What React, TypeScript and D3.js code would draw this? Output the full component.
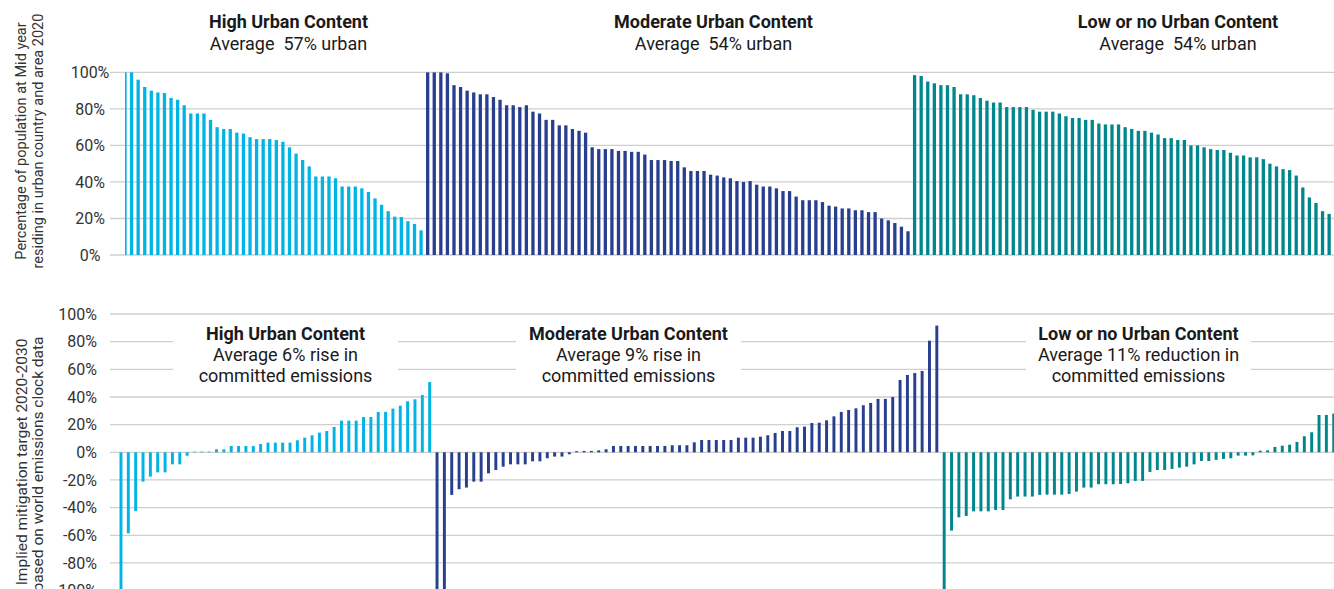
import React from 'react';
import * as d3 from 'd3';

const groupNames = ['High Urban Content', 'Moderate Urban Content', 'Low or no Urban Content'];
const groupColors = ['#00b4e6', '#283f8e', '#00878d'];
const topSubtitles = ['Average  57% urban', 'Average  54% urban', 'Average  54% urban'];
const bottomSubtitles = [
  ['Average 6% rise in', 'committed emissions'],
  ['Average 9% rise in', 'committed emissions'],
  ['Average 11% reduction in', 'committed emissions'],
];

// Percentage of population residing in urban area (2020)
const urbanHigh = [100, 100, 96, 92, 90, 89, 88.7, 86, 85, 82, 77.5, 77.5, 77.5, 74, 70, 69, 69, 67, 66.5, 64.5,
  63.5, 63.5, 63.5, 63, 62, 59, 55.5, 52, 48.5, 43, 43, 43, 42, 37.5, 37.5, 37.5, 36.5, 34.5, 31, 27.5,
  24, 21, 20.8, 18.5, 17, 13.5];
const urbanModerate = [100, 100, 100, 99.5, 93, 92, 90, 89, 88, 88, 86.5, 85, 82, 82, 81, 82, 78.5, 77.5, 74, 74,
  71, 71, 69, 68, 67, 59, 58, 58, 58, 57, 57, 56.5, 56.5, 55, 52, 52, 52, 51.5, 51.5, 48,
  46, 46, 46, 44, 43.5, 42.5, 42, 40.5, 40, 40.5, 38.5, 37.5, 37.5, 36.5, 35, 35, 32, 30, 30, 30,
  29, 27, 26.5, 25.5, 25.5, 24.5, 24.5, 23.5, 23.5, 20, 19, 17.5, 15.5, 13];
const urbanLow = [98.5, 98, 95, 94, 93, 93, 92, 88, 88, 87.5, 86, 84.5, 83.5, 83.5, 81, 81, 81, 81, 79.5, 78.5,
  78.5, 78.5, 77.5, 76, 75, 75, 74, 74, 72, 71.5, 71.5, 71.5, 70, 69, 68, 68, 67, 66, 64, 64,
  63, 63, 60, 60, 59, 58, 57.5, 57.5, 56, 54.5, 54.5, 53.5, 53.5, 52.5, 50, 48.5, 47, 46.5, 43.5, 37,
  31.5, 28.5, 24, 22.5];

// Implied mitigation target 2020-2030
const mitigationHigh = [-105, -58.6, -42.5, -21.2, -17.6, -14.5, -14.5, -8.7, -8.7, -2.5,
  0.5, 0.5, 0.5, 2.2, 2.2, 4.6, 4.6, 4.6, 4.6, 6, 7, 7, 7, 7, 8.7, 10.6, 12.3, 14.2, 15.4, 18.3,
  22.9, 22.9, 22.9, 25.5, 25.5, 29.2, 29.2, 31.6, 33.7, 36.9, 38.3, 41.4, 50.8];
const mitigationModerate = [-105, -105, -30.8, -26.7, -25.5, -21.2, -21.2, -15.2, -12.8, -10.4,
  -8.7, -8.7, -8.7, -6.5, -6.5, -4.3, -3.1, -3.1, -1.4, 0.8, 1, 1, 1.4, 2.2,
  4.6, 4.6, 4.6, 4.6, 4.6, 4.6, 4.6, 4.6, 5.1, 5.1, 5.1, 7.2, 8.9, 8.9, 8.9, 8.9, 8.9,
  10.6, 10.6, 10.6, 11.3, 12.3, 14, 15.4, 15.4, 18.1, 18.6, 21.2, 21.4, 23.1, 26, 29.2, 30.6, 31.8,
  34, 35.7, 38.6, 38.6, 40, 52.3, 55.9, 57.3, 58.8, 80.7, 91.6];
const mitigationLow = [-105, -56.6, -47, -46, -42.7, -42.7, -42.7, -41.7, -41.7, -34, -32, -32, -32, -30.8,
  -30.6, -30.6, -30.6, -30.1, -28.4, -25.5, -25.5, -23.1, -23.1, -23.1, -22.9, -22.4, -20.7, -20.7,
  -14.2, -12.8, -12.8, -12, -11.1, -10.4, -8.7, -6.3, -6.3, -5.5, -4.8, -4.3, -2.4, -2.4, -2.2,
  1.2, 1.4, 3.9, 4.8, 5.5, 7.5, 11.6, 14.5, 27, 27, 28];

const topTicks = [0, 20, 40, 60, 80, 100];
const bottomTicks = [-100, -80, -60, -40, -20, 0, 20, 40, 60, 80, 100];

const W = 1334;
const H = 589;
const FONT = 'Roboto, "Open Sans", sans-serif';

type Bar = { id: string; g: number; v: number };
const build = (arrs: number[][], prefix: string): Bar[] =>
  arrs.flatMap((a, g) => a.map((v, i) => ({ id: `${prefix}-${g}-${i}`, g, v })));

export default function App() {
  const topData = build([urbanHigh, urbanModerate, urbanLow], 't');
  const botData = build([mitigationHigh, mitigationModerate, mitigationLow], 'b');

  const topStep = 6.58;
  const topX = d3.scaleBand<string>()
    .domain(topData.map(d => d.id))
    .range([121.7, 121.7 + topData.length * topStep])
    .paddingInner(0.5)
    .paddingOuter(0.25);
  const topY = d3.scaleLinear().domain([0, 100]).range([255, 72.4]);

  const botStep = 7.35;
  const botX = d3.scaleBand<string>()
    .domain(botData.map(d => d.id))
    .range([117.3, 117.3 + botData.length * botStep])
    .paddingInner(0.6)
    .paddingOuter(0.3);
  const botY = d3.scaleLinear().domain([-100, 100]).range([590.6, 314]);

  const gridX0 = 110;
  const gridColor = '#cfcfcf';
  const fmt = (v: number) => `${v}%`;

  const topTitleX = [288.5, 713.5, 1178];
  const botTitleX = [285.5, 628.5, 1138.5];

  return (
    <svg width={W} height={H} style={{ position: 'absolute', left: 0, top: 0, background: '#fff' }}
      fontFamily={FONT}>
      <defs>
        <clipPath id="topClip">
          <rect x={125} y={0} width={W - 125} height={260} />
        </clipPath>
      </defs>
      <rect x={0} y={0} width={W} height={H} fill="#fff" />

      {/* Top chart */}
      {topTicks.map(t => (
        <g key={`tg${t}`}>
          <line x1={gridX0} x2={W} y1={topY(t)} y2={topY(t)} stroke={gridColor} strokeWidth={1.3} />
          <text x={90} y={topY(t)} dy="0.35em" textAnchor="middle" fontSize={16} fill="#333">{fmt(t)}</text>
        </g>
      ))}
      <g clipPath="url(#topClip)">
        {topData.map(d => (
          <rect key={d.id} x={topX(d.id)} width={topX.bandwidth()} y={topY(d.v)}
            height={topY(0) - topY(d.v)} fill={groupColors[d.g]} />
        ))}
      </g>
      {groupNames.map((n, i) => (
        <g key={`tt${i}`}>
          <text x={topTitleX[i]} y={28} textAnchor="middle" fontSize={18} fontWeight="bold" fill="#1a1a1a">{n}</text>
          <text x={topTitleX[i]} y={50} textAnchor="middle" fontSize={18} fill="#1a1a1a" style={{ whiteSpace: 'pre' }}>{topSubtitles[i]}</text>
        </g>
      ))}
      <text transform={`translate(26,141) rotate(-90)`} textAnchor="middle" fontSize={14.5} fill="#333">
        Percentage of population at Mid year
      </text>
      <text transform={`translate(42.5,141) rotate(-90)`} textAnchor="middle" fontSize={14.5} fill="#333">
        residing in urban country and area 2020
      </text>

      {/* Bottom chart */}
      {bottomTicks.map(t => (
        <g key={`bg${t}`}>
          <line x1={gridX0} x2={W} y1={botY(t)} y2={botY(t)} stroke={gridColor} strokeWidth={1.3} />
          <text x={97} y={botY(t)} dy="0.35em" textAnchor="end" fontSize={16} fill="#333">{fmt(t)}</text>
        </g>
      ))}
      {botData.map(d => {
        const y0 = botY(0);
        const y1 = botY(d.v);
        return (
          <rect key={d.id} x={botX(d.id)} width={botX.bandwidth()} y={Math.min(y0, y1)}
            height={Math.abs(y1 - y0)} fill={groupColors[d.g]} />
        );
      })}
      {groupNames.map((n, i) => (
        <g key={`bt${i}`}>
          <rect x={botTitleX[i] - 112.5} y={322} width={225} height={66} fill="#fff" />
          <text x={botTitleX[i]} y={340} textAnchor="middle" fontSize={18} fontWeight="bold" fill="#1a1a1a">{n}</text>
          <text x={botTitleX[i]} y={361} textAnchor="middle" fontSize={18} fill="#1a1a1a">{bottomSubtitles[i][0]}</text>
          <text x={botTitleX[i]} y={382} textAnchor="middle" fontSize={18} fill="#1a1a1a">{bottomSubtitles[i][1]}</text>
        </g>
      ))}
      <text transform={`translate(26.5,462) rotate(-90)`} textAnchor="middle" fontSize={15.5} fill="#333">
        Implied mitigation target 2020-2030
      </text>
      <text transform={`translate(43,464) rotate(-90)`} textAnchor="middle" fontSize={15.5} fill="#333">
        based on world emissions clock data
      </text>
    </svg>
  );
}
